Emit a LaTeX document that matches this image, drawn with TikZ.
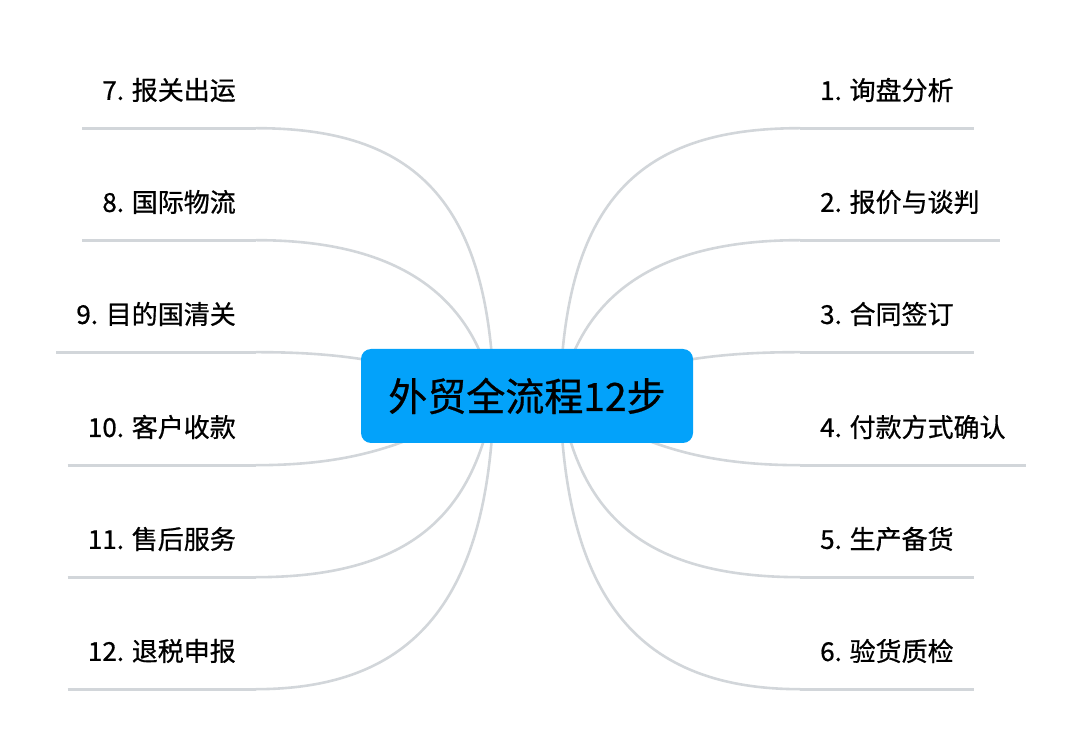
\documentclass[tikz,border=0pt]{standalone}
\usepackage{fontspec}
\setmainfont{Noto Sans CJK SC}[FakeBold=0.7]
\usetikzlibrary{backgrounds}
\definecolor{rootblue}{RGB}{3,162,250}
\definecolor{branchgray}{RGB}{210,214,218}
\tikzset{
  root/.style={fill=rootblue, rounded corners=10pt, minimum width=332pt, minimum height=94pt, font=\fontsize{39}{44}\selectfont},
  leaf/.style={inner xsep=20pt, inner ysep=0pt, minimum height=76pt, font=\fontsize{26}{30}\selectfont},
  branch/.style={draw=branchgray, line width=2.6pt},
  under/.style={draw=branchgray, line width=3pt}
}

\begin{document}
\begin{tikzpicture}[x=1pt,y=-1pt]
  \useasboundingbox (0,0) rectangle (1080,743);
  \node[root] (root) at (527,396) {外贸全流程12步};
  \coordinate (oR) at (560,396);
  \coordinate (oL) at (494,396);
  % right side
  \node[leaf, anchor=west] (s1) at (800,90) {1. 询盘分析};
  \node[leaf, anchor=west] (s2) at (800,202) {2. 报价与谈判};
  \node[leaf, anchor=west] (s3) at (800,314) {3. 合同签订};
  \node[leaf, anchor=west] (s4) at (800,427) {4. 付款方式确认};
  \node[leaf, anchor=west] (s5) at (800,539) {5. 生产备货};
  \node[leaf, anchor=west] (s6) at (800,651) {6. 验货质检};
  % left side
  \node[leaf, anchor=east] (s7) at (256,90) {7. 报关出运};
  \node[leaf, anchor=east] (s8) at (256,202) {8. 国际物流};
  \node[leaf, anchor=east] (s9) at (256,314) {9. 目的国清关};
  \node[leaf, anchor=east] (s10) at (256,427) {10. 客户收款};
  \node[leaf, anchor=east] (s11) at (256,539) {11. 售后服务};
  \node[leaf, anchor=east] (s12) at (256,651) {12. 退税申报};
  \begin{pgfonlayer}{background}
    \foreach \n in {1,...,12}
      \draw[under] (s\n.south west) -- (s\n.south east);
    \draw[branch] (oR) .. controls (565,200) and (640,128) .. (s1.south west);
    \draw[branch] (oR) .. controls (580,300) and (650,240) .. (s2.south west);
    \draw[branch] (oR) .. controls (650,360) and (720,352) .. (s3.south west);
    \draw[branch] (oR) .. controls (640,445) and (700,465) .. (s4.south west);
    \draw[branch] (oR) .. controls (580,520) and (650,577) .. (s5.south west);
    \draw[branch] (oR) .. controls (565,600) and (640,689) .. (s6.south west);
    \draw[branch] (oL) .. controls (489,200) and (414,128) .. (s7.south east);
    \draw[branch] (oL) .. controls (474,300) and (404,240) .. (s8.south east);
    \draw[branch] (oL) .. controls (404,360) and (334,352) .. (s9.south east);
    \draw[branch] (oL) .. controls (414,445) and (354,465) .. (s10.south east);
    \draw[branch] (oL) .. controls (474,520) and (404,577) .. (s11.south east);
    \draw[branch] (oL) .. controls (489,600) and (414,689) .. (s12.south east);
  \end{pgfonlayer}
\end{tikzpicture}
\end{document}
